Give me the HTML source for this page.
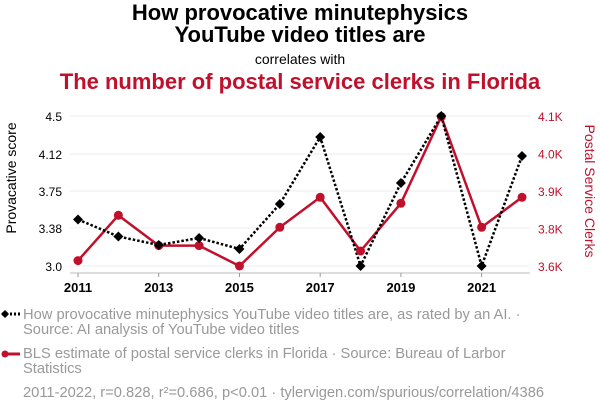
<!DOCTYPE html>
<html><head><meta charset="utf-8"><style>
body{margin:0;background:#fff;}
svg{display:block;font-family:"Liberation Sans",Arial,sans-serif;}
</style></head><body>
<svg id="chart" width="600" height="414" viewBox="0 0 600 414">
<text x="300" y="20" text-anchor="middle" font-size="22" font-weight="bold" fill="#000">How provocative minutephysics</text>
<text x="300" y="42" text-anchor="middle" font-size="22" font-weight="bold" fill="#000">YouTube video titles are</text>
<text x="300" y="64" text-anchor="middle" font-size="14" fill="#000">correlates with</text>
<text x="300" y="89" text-anchor="middle" font-size="22" font-weight="bold" fill="#c0102c">The number of postal service clerks in Florida</text>
<g id="grid"></g>
<g id="axes"></g>
<g id="series"></g>
<text transform="translate(16,178) rotate(-90)" text-anchor="middle" font-size="14" fill="#000">Provacative score</text>
<text transform="translate(585,191) rotate(90)" text-anchor="middle" font-size="14" fill="#c0102c">Postal Service Clerks</text>
<g>
<line x1="2" y1="314" x2="20" y2="314" stroke="#000" stroke-width="3" stroke-dasharray="2,2"/>
<path d="M5 310 L9 314 L5 318 L1 314Z" fill="#000"/>
<text x="23" y="319" font-size="14.7" fill="#999">How provocative minutephysics YouTube video titles are, as rated by an AI. ·</text>
<text x="23" y="334" font-size="14.7" fill="#999">Source: AI analysis of YouTube video titles</text>
</g>
<g>
<line x1="2" y1="354" x2="20" y2="354" stroke="#c0102c" stroke-width="3"/>
<circle cx="5" cy="354" r="3.5" fill="#c0102c"/>
<text x="23" y="358" font-size="14.7" fill="#999">BLS estimate of postal service clerks in Florida · Source: Bureau of Larbor</text>
<text x="23" y="373" font-size="14.7" fill="#999">Statistics</text>
</g>
<text x="23" y="397" font-size="14.7" fill="#999">2011-2022, r=0.828, r²=0.686, p&lt;0.01 · tylervigen.com/spurious/correlation/4386</text>
</svg>
<script>
const years=[2011,2012,2013,2014,2015,2016,2017,2018,2019,2020,2021,2022];
const scores=[3.465,3.295,3.21,3.28,3.17,3.62,4.29,3.0,3.83,4.5,3.0,4.10];
const clerks=[3618,3769,3668,3668,3600,3729,3829,3650,3809,4098,3729,3829];
const leftTicks=[3.0,3.38,3.75,4.12,4.5];
const leftTickLabels=["3.0","3.38","3.75","4.12","4.5"];
const rightTicks=[3600,3725,3850,3975,4100];
const rightTickLabels=["3.6K","3.8K","3.9K","4.0K","4.1K"];
const xTicks=[2011,2013,2015,2017,2019,2021];

const NS="http://www.w3.org/2000/svg";
const X=y=>78+(y-2011)*(522-78)/11;
const YL=v=>266-(v-3.0)*(266-116)/1.5;
const YR=v=>266-(v-3600)*(266-116)/500;
function mk(tag,attrs,parent){const e=document.createElementNS(NS,tag);for(const k in attrs)e.setAttribute(k,attrs[k]);parent.appendChild(e);return e;}
const grid=document.getElementById('grid'),axes=document.getElementById('axes'),ser=document.getElementById('series');
leftTicks.forEach((t,i)=>{
  const l=mk('line',{x1:70,x2:530,y1:YL(t),y2:YL(t),stroke:'#eee','stroke-width':1},grid);
  
  
  const tx=mk('text',{x:62,y:YL(t)+5,'text-anchor':'end','font-size':12,fill:'#000'},axes);
  tx.textContent=leftTickLabels[i];
  
  
});
rightTicks.forEach((t,i)=>{
  const tx=mk('text',{x:538,y:YR(t)+5,'font-size':12,fill:'#c0102c'},axes);
  tx.textContent=rightTickLabels[i];
  
  
});
mk('line',{x1:70,x2:530,y1:273,y2:273,stroke:'#bbb'},axes);
xTicks.forEach(t=>{
  mk('line',{x1:X(t),x2:X(t),y1:273,y2:277,stroke:'#999'},axes);
  const tx=mk('text',{x:X(t),y:292,'text-anchor':'middle','font-size':13,'font-weight':'bold',fill:'#000'},axes);
  tx.textContent=t;
  
  
});
const rp=mk('polyline',{points:years.map((y,i)=>X(y)+','+YR(clerks[i])).join(' '),fill:'none',stroke:'#c0102c','stroke-width':2.5},ser);


const bp=mk('polyline',{points:years.map((y,i)=>X(y)+','+YL(scores[i])).join(' '),fill:'none',stroke:'#000','stroke-width':2.5,'stroke-dasharray':'2.5,2'},ser);


years.forEach((y,i)=>{
  const c=mk('circle',{cx:X(y),cy:YR(clerks[i]),r:4.5,fill:'#c0102c'},ser);
  
  
});
years.forEach((y,i)=>{
  const x=X(y),yy=YL(scores[i]);
  const d=mk('path',{d:`M${x} ${yy-5}L${x+5} ${yy}L${x} ${yy+5}L${x-5} ${yy}Z`,fill:'#000'},ser);
  
  
});
</script>
</body></html>
